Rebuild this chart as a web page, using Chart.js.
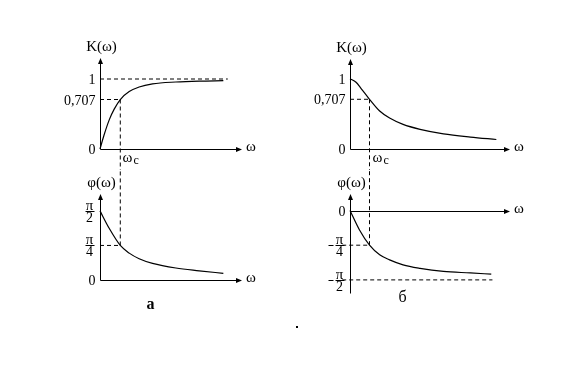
<!DOCTYPE html>
<html lang="ru">
<head>
  <meta charset="UTF-8">
  <title>АЧХ и ФЧХ</title>
  <script src="https://cdn.jsdelivr.net/npm/chart.js"></script>
  <style>
    body {
      margin: 0;
      background: #ffffff;
      width: 563px;
      height: 387px;
      position: relative;
      overflow: hidden;
    }
    canvas { position: absolute; }
    #ampA { left: 55px; top: 30px; }
    #phiA { left: 55px; top: 170px; }
    #ampB { left: 305px; top: 30px; }
    #phiB { left: 305px; top: 170px; }
    .dot {
      position: absolute;
      left: 296px;
      top: 326px;
      width: 2px;
      height: 2px;
      background: #000;
    }
  </style>
</head>
<body>

  <canvas id="ampA" width="220" height="140"></canvas>
  <canvas id="phiA" width="220" height="150"></canvas>
  <canvas id="ampB" width="230" height="140"></canvas>
  <canvas id="phiB" width="230" height="150"></canvas>
  <div class="dot"></div>

  <script>
    // frequency in units of the cut-off frequency wc
    const wc = 1;

    // panel a: K(w) rising to 1, phase falling from pi/2
    const ampAW = [0, 0.2, 0.46, 0.7, 1, 1.44, 1.93, 2.59, 3.74, 4.89, 6.08];
    const ampAK = [0, 0.2, 0.42, 0.57, 0.707, 0.82, 0.886, 0.93, 0.957, 0.97, 0.976];
    const phiAW = [0, 0.46, 1, 1.44, 1.93, 2.59, 3.74, 4.89, 6.08];
    const phiAV = [90, 67, 45, 35, 27.7, 21.6, 15.6, 12, 8.7];

    // panel б: K(w) falling from 1, phase falling from 0 toward -pi/2
    const ampBW = [0, 0.31, 0.57, 1, 1.52, 2.03, 2.72, 3.59, 4.79, 6.17, 7.5];
    const ampBK = [1, 0.95, 0.86, 0.707, 0.54, 0.44, 0.35, 0.28, 0.216, 0.17, 0.135];
    const phiBW = [0, 0.48, 1, 1.52, 2.03, 2.72, 3.59, 4.79, 6.17, 7.24];
    const phiBV = [0, -25, -45, -57.5, -64, -70.5, -75, -79, -81, -82.6];

    // tick values (degrees for phase) and their labels
    const kTicks = [0, 0.707, 1];
    const kLabels = ['0', '0,707', '1'];
    const phiTicksA = [0, 45, 90];
    const phiLabelsA = ['0', 'π/4', 'π/2'];
    const phiTicksB = [0, -45, -90];
    const phiLabelsB = ['0', '-π/4', '-π/2'];

    const FONT = "'Liberation Serif', 'DejaVu Serif', serif";

    const pts = (xs, ys) => xs.map((x, i) => ({ x: x, y: ys[i] }));

    function curve(xs, ys) {
      return {
        data: pts(xs, ys),
        borderColor: '#000',
        borderWidth: 1.2,
        pointRadius: 0,
        cubicInterpolationMode: 'monotone',
        clip: false
      };
    }

    function dashed(xs, ys) {
      return {
        data: pts(xs, ys),
        borderColor: '#000',
        borderWidth: 1,
        borderDash: [4, 3],
        pointRadius: 0,
        tension: 0,
        clip: false
      };
    }

    // axes with arrows, tick labels and captions, placed from the chart scales
    const sketchAxes = {
      id: 'sketchAxes',
      afterDatasetsDraw(chart, args, o) {
        const ctx = chart.ctx;
        const xs = chart.scales.x, ys = chart.scales.y, a = chart.chartArea;
        const px = v => Math.round(xs.getPixelForValue(v)) + 0.5;
        const py = v => Math.round(ys.getPixelForValue(v)) + 0.5;
        const x0 = px(0), y0 = py(0);
        const top = Math.round(a.top), right = Math.round(a.right);

        ctx.save();
        ctx.strokeStyle = '#000';
        ctx.fillStyle = '#000';
        ctx.lineWidth = 1;

        // y axis
        ctx.beginPath();
        ctx.moveTo(x0, Math.round(a.bottom) + 0.5);
        ctx.lineTo(x0, top + 2);
        ctx.stroke();
        ctx.beginPath();
        ctx.moveTo(x0, top);
        ctx.lineTo(x0 - 2.5, top + 6);
        ctx.lineTo(x0 + 2.5, top + 6);
        ctx.closePath();
        ctx.fill();

        // x axis
        ctx.beginPath();
        ctx.moveTo(x0, y0);
        ctx.lineTo(right - 2, y0);
        ctx.stroke();
        ctx.beginPath();
        ctx.moveTo(right, y0);
        ctx.lineTo(right - 6, y0 - 2.5);
        ctx.lineTo(right - 6, y0 + 2.5);
        ctx.closePath();
        ctx.fill();

        // axis names
        ctx.font = '15px ' + FONT;
        ctx.textAlign = 'center';
        ctx.textBaseline = 'middle';
        ctx.fillText(o.yName, x0 + 1, top - 11);
        ctx.textAlign = 'left';
        ctx.fillText('ω', right + 4, y0 - 2);

        // cut-off frequency label
        if (o.showWc) {
          const xc = px(wc);
          ctx.fillText('ω', xc + 2, y0 + 9);
          ctx.font = '12px ' + FONT;
          ctx.fillText('c', xc + 13, y0 + 11);
        }

        // tick labels
        o.ticks.forEach((v, i) => {
          const lab = o.labels[i];
          const y = py(v);
          if (lab.indexOf('/') < 0) {
            ctx.font = '14px ' + FONT;
            ctx.textAlign = 'right';
            ctx.textBaseline = 'middle';
            ctx.fillText(lab, x0 - 5, y + 1);
            return;
          }
          const neg = lab[0] === '-';
          const parts = lab.replace('-', '').split('/');
          const cx = x0 - 11;
          ctx.font = '15px ' + FONT;
          ctx.textAlign = 'center';
          ctx.textBaseline = 'alphabetic';
          ctx.fillText(parts[0], cx, y - 2);
          ctx.font = '14px ' + FONT;
          ctx.textBaseline = 'top';
          ctx.fillText(parts[1], cx, y);
          ctx.fillRect(cx - 4, Math.round(y) - 1, 9, 1);
          if (neg) {
            ctx.fillRect(cx - 11, Math.round(y) - 1, 5, 1);
          }
        });

        // panel caption
        if (o.caption) {
          ctx.font = o.captionFont + ' ' + FONT;
          ctx.textAlign = 'center';
          ctx.textBaseline = 'middle';
          ctx.fillText(o.caption, x0 + o.captionDx, Math.round(a.bottom) + o.captionDy);
        }
        ctx.restore();
      }
    };

    function makeChart(id, datasets, xMax, yMin, yMax, pad, axes) {
      return new Chart(document.getElementById(id), {
        type: 'line',
        data: { datasets: datasets },
        options: {
          responsive: false,
          animation: false,
          devicePixelRatio: 1,
          layout: { padding: pad },
          scales: {
            x: { type: 'linear', min: 0, max: xMax, display: false },
            y: { type: 'linear', min: yMin, max: yMax, display: false }
          },
          plugins: {
            legend: { display: false },
            tooltip: { enabled: false },
            sketchAxes: axes
          }
        },
        plugins: [sketchAxes]
      });
    }

    const kCut = kTicks[1], kTop = kTicks[2];
    const phiCutA = phiTicksA[1];
    const phiCutB = phiTicksB[1], phiLowB = phiTicksB[2];

    // panel a, amplitude
    makeChart('ampA', [
      curve(ampAW, ampAK),
      dashed([0, 6.3], [kTop, kTop]),
      dashed([0, wc], [kCut, kCut]),
      dashed([wc, wc], [kCut, -1])
    ], 7, 0, 1.3, { left: 45, right: 33, top: 28, bottom: 21 }, {
      yName: 'K(ω)', showWc: true, ticks: kTicks, labels: kLabels
    });

    // panel a, phase
    makeChart('phiA', [
      curve(phiAW, phiAV),
      dashed([0, wc], [phiCutA, phiCutA]),
      dashed([wc, wc], [phiCutA, 300])
    ], 7, 0, 112, { left: 45, right: 33, top: 24, bottom: 40 }, {
      yName: 'φ(ω)', showWc: false, ticks: phiTicksA, labels: phiLabelsA,
      caption: 'a', captionFont: 'bold 16px', captionDx: 50, captionDy: 25
    });

    // panel б, amplitude
    makeChart('ampB', [
      curve(ampBW, ampBK),
      dashed([0, wc], [kCut, kCut]),
      dashed([wc, wc], [kCut, -1])
    ], 8.2, 0, 1.28, { left: 45, right: 25, top: 29, bottom: 21 }, {
      yName: 'K(ω)', showWc: true, ticks: kTicks, labels: kLabels
    });

    // panel б, phase
    makeChart('phiB', [
      curve(phiBW, phiBV),
      dashed([-0.4, wc], [phiCutB, phiCutB]),
      dashed([-0.4, 7.3], [phiLowB, phiLowB]),
      dashed([wc, wc], [phiCutB, 200])
    ], 8.2, -107, 21.4, { left: 45, right: 25, top: 24, bottom: 27 }, {
      yName: 'φ(ω)', showWc: false, ticks: phiTicksB, labels: phiLabelsB,
      caption: 'б', captionFont: '16px', captionDx: 52, captionDy: 5
    });
  </script>

</body>
</html>
